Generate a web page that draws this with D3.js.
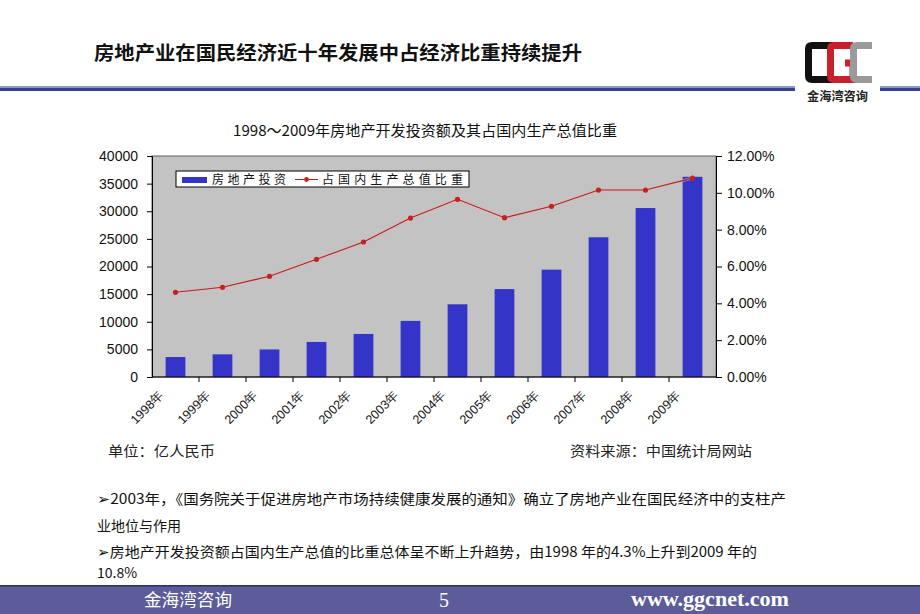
<!DOCTYPE html>
<html><head><meta charset="utf-8">
<script src="https://cdn.jsdelivr.net/npm/d3@7/dist/d3.min.js"></script>
<style>
html,body{margin:0;padding:0;background:#fff;}
svg{display:block;}
</style></head>
<body>
<svg id="c" width="920" height="614"></svg>
<script>
const years = ["1998年","1999年","2000年","2001年","2002年","2003年","2004年","2005年","2006年","2007年","2008年","2009年"];
const investment = [3614, 4103, 4984, 6344, 7791, 10154, 13158, 15909, 19423, 25289, 30580, 36232];
const gdpShare = [0.046, 0.0487, 0.0547, 0.0639, 0.0733, 0.0863, 0.0965, 0.0865, 0.0927, 0.1015, 0.1015, 0.108];
const leftTicks = [0, 5000, 10000, 15000, 20000, 25000, 30000, 35000, 40000];
const rightTicks = [0, 0.02, 0.04, 0.06, 0.08, 0.10, 0.12];
const seriesNames = ["房地产投资", "占国内生产总值比重"];
const pageTitle = "房地产业在国民经济近十年发展中占经济比重持续提升";
const chartTitle = "1998～2009年房地产开发投资额及其占国内生产总值比重";
const unitText = "单位：亿人民币";
const sourceText = "资料来源：中国统计局网站";
const bullets = [
  "➢2003年，《国务院关于促进房地产市场持续健康发展的通知》确立了房地产业在国民经济中的支柱产",
  "业地位与作用",
  "➢房地产开发投资额占国内生产总值的比重总体呈不断上升趋势，由1998 年的4.3%上升到2009 年的",
  "10.8%"
];
const footerLeft = "金海湾咨询", footerPage = "5", footerUrl = "www.ggcnet.com";

const svg = d3.select("#c");
const CJK = "'Noto Sans CJK SC','Noto Sans',sans-serif";
const SANS = "'Liberation Sans',Arial,sans-serif";

// header
svg.append("text").attr("x", 94).attr("y", 60).attr("font-family", CJK).attr("font-weight", "bold")
  .attr("font-size", 19).attr("fill", "#111").attr("textLength", 488).attr("lengthAdjust", "spacingAndGlyphs").text(pageTitle);
[[0, 795], [880, 920]].forEach(([a, b]) => {
  svg.append("rect").attr("x", a).attr("y", 86).attr("width", b - a).attr("height", 2).attr("fill", "#8c98c8");
  svg.append("rect").attr("x", a).attr("y", 88).attr("width", b - a).attr("height", 3).attr("fill", "#36438c");
});
// logo
const lg = svg.append("g");
lg.append("path").attr("d", "M833,45.5 H812 Q808.5,45.5 808.5,49 V76 Q808.5,79.5 812,79.5 H833").attr("fill", "none").attr("stroke", "#111").attr("stroke-width", 7);
lg.append("path").attr("d", "M853,45.5 H834 Q830.5,45.5 830.5,49 V76 Q830.5,79.5 834,79.5 H853 V63 H845").attr("fill", "none").attr("stroke", "#c8202c").attr("stroke-width", 7);
lg.append("path").attr("d", "M872,45.5 H857 Q853.5,45.5 853.5,49 V76 Q853.5,79.5 857,79.5 H872").attr("fill", "none").attr("stroke", "#9a9a9a").attr("stroke-width", 7);
lg.append("rect").attr("x", 820).attr("y", 52).attr("width", 3).attr("height", 22).attr("fill", "#fff");
lg.append("rect").attr("x", 841).attr("y", 52).attr("width", 3).attr("height", 8).attr("fill", "#fff");
lg.append("text").attr("x", 807).attr("y", 101).attr("font-family", CJK).attr("font-weight", "bold").attr("font-size", 12)
  .attr("fill", "#222").attr("textLength", 61).attr("lengthAdjust", "spacingAndGlyphs").text("金海湾咨询");

// chart title
svg.append("text").attr("x", 233).attr("y", 136).attr("font-family", CJK).attr("font-size", 15).attr("fill", "#111")
  .attr("textLength", 384).attr("lengthAdjust", "spacingAndGlyphs").text(chartTitle);

// plot
const L = 152, R = 716, T = 156, B = 377;
const x = d3.scaleBand().domain(years).range([L, R]).paddingInner(0.58).paddingOuter(0.29);
const xb = d3.scaleBand().domain(years).range([L, R]).padding(0);
const y = d3.scaleLinear().domain([0, 40000]).range([B, T]);
const y2 = d3.scaleLinear().domain([0, 0.12]).range([B, T]);

svg.append("rect").attr("x", L).attr("y", T).attr("width", R - L).attr("height", B - T)
  .attr("fill", "#c3c3c3").attr("stroke", "#606060").attr("stroke-width", 1);

svg.append("g").selectAll("rect").data(investment).join("rect")
  .attr("x", (d, i) => x(years[i])).attr("width", x.bandwidth())
  .attr("y", d => y(d)).attr("height", d => B - y(d)).attr("fill", "#3434c8");

const line = d3.line().x((d, i) => x(years[i]) + x.bandwidth() / 2).y(d => y2(d));
svg.append("path").datum(gdpShare).attr("d", line).attr("fill", "none").attr("stroke", "#f0b0b0").attr("stroke-width", 3).attr("opacity", 0.6);
svg.append("path").datum(gdpShare).attr("d", line).attr("fill", "none").attr("stroke", "#a02a2a").attr("stroke-width", 1.1);
svg.append("g").selectAll("circle").data(gdpShare).join("circle")
  .attr("cx", (d, i) => x(years[i]) + x.bandwidth() / 2).attr("cy", d => y2(d)).attr("r", 2.6).attr("fill", "#c8201e");

// axes
const ax = svg.append("g").attr("transform", `translate(${L},0)`)
  .call(d3.axisLeft(y).tickValues(leftTicks).tickSize(5).tickPadding(9).tickFormat(d3.format("d")));
const ax2 = svg.append("g").attr("transform", `translate(${R},0)`)
  .call(d3.axisRight(y2).tickValues(rightTicks).tickSize(6).tickPadding(5).tickFormat(d3.format(".2%")));
[ax, ax2].forEach(g => {
  g.select(".domain").attr("stroke", "#000");
  g.selectAll(".tick line").attr("stroke", "#000");
  g.selectAll("text").attr("font-family", SANS).attr("font-size", 14).attr("fill", "#111");
});
const axb = svg.append("g").attr("transform", `translate(0,${B})`);
axb.append("line").attr("x1", L).attr("x2", R).attr("y1", 0).attr("y2", 0).attr("stroke", "#000");
axb.selectAll("line.t").data(years.slice(1)).join("line").attr("class", "t")
  .attr("x1", d => xb(d)).attr("x2", d => xb(d)).attr("y1", 0).attr("y2", 5).attr("stroke", "#000");
axb.selectAll("text").data(years).join("text")
  .attr("transform", d => `translate(${xb(d) + xb.bandwidth() / 2 - 11},${19}) rotate(-45)`)
  .attr("text-anchor", "end").attr("font-family", SANS).attr("font-size", 12.5).attr("fill", "#111")
  .text(d => d);

// legend
const leg = svg.append("g");
leg.append("rect").attr("x", 176).attr("y", 171).attr("width", 293).attr("height", 16).attr("fill", "#fff").attr("stroke", "#000");
leg.append("rect").attr("x", 182).attr("y", 177).attr("width", 25).attr("height", 6).attr("fill", "#3434c8");
leg.append("text").attr("x", 212).attr("y", 184).attr("font-family", CJK).attr("font-size", 12).attr("fill", "#111")
  .attr("textLength", 74).attr("lengthAdjust", "spacing").text(seriesNames[0]);
leg.append("line").attr("x1", 295).attr("x2", 318).attr("y1", 179.5).attr("y2", 179.5).attr("stroke", "#a02a2a");
leg.append("circle").attr("cx", 306.5).attr("cy", 179.5).attr("r", 2.4).attr("fill", "#c8201e");
leg.append("text").attr("x", 322).attr("y", 184).attr("font-family", CJK).attr("font-size", 12).attr("fill", "#111")
  .attr("textLength", 141).attr("lengthAdjust", "spacing").text(seriesNames[1]);

// unit / source
svg.append("text").attr("x", 108).attr("y", 456).attr("font-family", CJK).attr("font-size", 14).attr("fill", "#222")
  .attr("textLength", 107).attr("lengthAdjust", "spacingAndGlyphs").text(unitText);
svg.append("text").attr("x", 570).attr("y", 456).attr("font-family", CJK).attr("font-size", 14).attr("fill", "#222")
  .attr("textLength", 182).attr("lengthAdjust", "spacingAndGlyphs").text(sourceText);

// bullets
const bY = [504, 531, 557, 578];
const bW = [689, null, 660, null];
bullets.forEach((t, i) => {
  const tx = svg.append("text").attr("x", 97).attr("y", bY[i]).attr("font-family", CJK).attr("font-size", 14).attr("fill", "#111").text(t);
  if (bW[i]) tx.attr("textLength", bW[i]).attr("lengthAdjust", "spacingAndGlyphs");
});

// footer
svg.append("rect").attr("x", 0).attr("y", 585).attr("width", 920).attr("height", 29).attr("fill", "#5c5c9a");
svg.append("rect").attr("x", 0).attr("y", 585).attr("width", 920).attr("height", 1.5).attr("fill", "#2e2e60");
svg.append("text").attr("x", 144).attr("y", 606).attr("font-family", CJK).attr("font-size", 17).attr("fill", "#fff")
  .attr("textLength", 88).attr("lengthAdjust", "spacingAndGlyphs").text(footerLeft);
svg.append("text").attr("x", 444).attr("y", 607).attr("text-anchor", "middle").attr("font-family", "'Liberation Serif',serif").attr("font-size", 20).attr("fill", "#fff").text(footerPage);
svg.append("text").attr("x", 631).attr("y", 606).attr("font-family", "'Liberation Serif',serif").attr("font-weight", "bold").attr("font-size", 20).attr("fill", "#fff")
  .attr("textLength", 158).attr("lengthAdjust", "spacingAndGlyphs").text(footerUrl);
</script>
</body></html>
